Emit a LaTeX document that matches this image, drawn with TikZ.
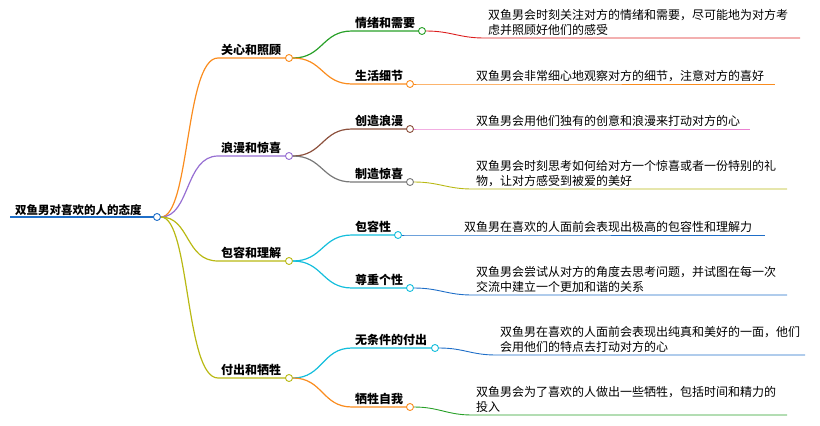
\documentclass[tikz,border=0pt]{standalone}
\usepackage{fontspec}
\setmainfont{Noto Sans CJK SC}
\definecolor{corange}{RGB}{250,140,30}
\definecolor{cpurple}{RGB}{150,110,210}
\definecolor{colive}{RGB}{185,185,20}
\definecolor{cgreen}{RGB}{40,160,40}
\definecolor{ccyan}{RGB}{20,190,220}
\definecolor{cblue}{RGB}{30,110,200}
\definecolor{cred}{RGB}{220,30,30}
\definecolor{cpink}{RGB}{235,130,210}
\definecolor{cbrown}{RGB}{140,80,60}
\definecolor{cgray}{RGB}{120,120,120}
\tikzset{
  branch/.style={font=\bfseries\fontsize{12}{14}\selectfont, anchor=south west, inner sep=1pt},
  leaf/.style={font=\fontsize{12}{15}\selectfont, anchor=south west, align=left, inner sep=1pt},
  knob/.style={circle, draw=#1, fill=white, line width=.9pt, minimum size=7pt, inner sep=0pt},
  wire/.style={line width=1.2pt, #1}
}
\begin{document}
\begin{tikzpicture}[x=1pt,y=-1pt]
\useasboundingbox (0,0) rectangle (820,426);
% root
\node[branch, font=\bfseries\fontsize{11.5}{14}\selectfont] (root) at (14,217) {双鱼男对喜欢的人的态度};
\draw[wire=cblue, line width=2pt] (10,217) -- (157,217);
\node[knob=cblue] (r) at (157,217) {};
% main branches
\foreach \y/\c/\t/\n in {58/corange/关心和照顾/b1, 156/cpurple/浪漫和惊喜/b2, 261/colive/包容和理解/b3, 378/colive/付出和牺牲/b4} {
  \draw[wire=\c] (r.east) .. controls (190,217) and (185,\y) .. (218,\y) -- (289,\y);
  \node[branch] at (220,\y-1) {\t};
  \node[knob=\c] (\n) at (289,\y) {};
}
% children: parent/y/circle x/colour/text/name
\foreach \p/\y/\x/\c/\t/\n in {b1/31/422/cgreen/情绪和需要/c1, b1/84/410/corange/生活细节/c2,
    b2/129/410/cbrown/创造浪漫/c3, b2/182/410/cgray/制造惊喜/c4,
    b3/235/398/ccyan/包容性/c5, b3/288/410/ccyan/尊重个性/c6,
    b4/348/435/ccyan/无条件的付出/c7, b4/407/410/corange/牺牲自我/c8} {
  \draw[wire=\c] (\p.east) .. controls +(30,0) and (322,\y) .. (352,\y) -- (\x,\y);
  \node[branch] at (354,\y-1) {\t};
  \node[knob=\c] (\n) at (\x,\y) {};
}
% leaves: child/y/start x/end x/colour/text
\foreach \p/\y/\s/\e/\c/\t in {
  c1/38/484/800/cred/{双鱼男会时刻关注对方的情绪和需要，尽可能地为对方考\\虑并照顾好他们的感受},
  c2/84/472/775/corange/{双鱼男会非常细心地观察对方的细节，注意对方的喜好},
  c3/129/472/750/cpink/{双鱼男会用他们独有的创意和浪漫来打动对方的心},
  c4/189/472/787/colive/{双鱼男会时刻思考如何给对方一个惊喜或者一份特别的礼\\物，让对方感受到被爱的美好},
  c5/235/460/765/cblue/{双鱼男在喜欢的人面前会表现出极高的包容性和理解力},
  c6/295/472/787/cblue/{双鱼男会尝试从对方的角度去思考问题，并试图在每一次\\交流中建立一个更加和谐的关系},
  c7/355/496/805/cblue/{双鱼男在喜欢的人面前会表现出纯真和美好的一面，他们\\会用他们的特点去打动对方的心},
  c8/415/472/787/cgreen/{双鱼男会为了喜欢的人做出一些牺牲，包括时间和精力的\\投入}} {
  \draw[line width=.9pt, \c] (\p.east) .. controls +(25,0) and (\s-25,\y) .. (\s,\y) -- (\e,\y);
  \node[leaf] at (\s+3,\y-1) {\t};
}
\end{tikzpicture}
\end{document}
